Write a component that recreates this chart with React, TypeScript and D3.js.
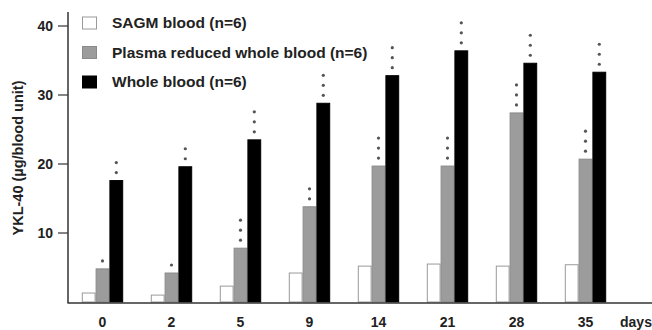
import React from "react";
import * as d3 from "d3";

const days = ["0", "2", "5", "9", "14", "21", "28", "35"];
const seriesNames = ["SAGM blood (n=6)", "Plasma reduced whole blood (n=6)", "Whole blood (n=6)"];
const sagm = [1.3, 1.0, 2.3, 4.2, 5.2, 5.5, 5.2, 5.4];
const plasmaReduced = [4.8, 4.2, 7.8, 13.8, 19.7, 19.7, 27.4, 20.7];
const wholeBlood = [17.6, 19.6, 23.5, 28.8, 32.8, 36.4, 34.6, 33.3];
const sagmStars = [0, 0, 0, 0, 0, 0, 0, 0];
const plasmaStars = [1, 1, 3, 2, 3, 3, 3, 3];
const wholeStars = [2, 2, 3, 3, 3, 3, 3, 3];
const yTicks = [10, 20, 30, 40];

const W = 652;
const H = 330;
const FONT = "'Liberation Sans', Arial, sans-serif";

export default function App() {
  const x = d3.scaleBand<string>().domain(days).range([68, 620]).paddingInner(0.4).paddingOuter(0.2);
  const keys = ["0", "1", "2"];
  const xs = d3.scaleBand<string>().domain(keys).range([0, x.bandwidth()]);
  const y = d3.scaleLinear().domain([0, 40]).range([302, 26]);
  const series = [sagm, plasmaReduced, wholeBlood];
  const stars = [sagmStars, plasmaStars, wholeStars];
  const fills = ["#ffffff", "#9c9c9c", "#000000"];
  const strokes = ["#9a9a9a", "#8a8a8a", "#000000"];

  return (
    <svg width={W} height={H} style={{ position: "absolute", left: 0, top: 0, background: "#fff" }}>
      {/* bars */}
      {days.map((d, i) => (
        <g key={d}>
          {series.map((s, k) => {
            const bx = (x(d) ?? 0) + (xs(keys[k]) ?? 0);
            const by = y(s[i]);
            const bw = xs.bandwidth();
            return (
              <g key={k}>
                <rect
                  x={bx + 0.5}
                  y={by}
                  width={bw - 1}
                  height={y(0) - by}
                  fill={fills[k]}
                  stroke={strokes[k]}
                  strokeWidth={1}
                />
                {d3.range(stars[k][i]).map((j) => (
                  <circle
                    key={j}
                    cx={bx + bw / 2}
                    cy={by - 8 - j * 10}
                    r={1.6}
                    fill="#555"
                  />
                ))}
              </g>
            );
          })}
        </g>
      ))}
      {/* axes */}
      <line x1={68} x2={68} y1={12} y2={303} stroke="#333" strokeWidth={1.5} />
      <line x1={67.5} x2={652} y1={303} y2={303} stroke="#333" strokeWidth={1.5} />
      {yTicks.map((t) => (
        <g key={t}>
          <line x1={58} x2={68} y1={y(t)} y2={y(t)} stroke="#333" strokeWidth={1.2} />
          <text
            x={53}
            y={y(t)}
            dy="0.35em"
            textAnchor="end"
            fontFamily={FONT}
            fontWeight="bold"
            fontSize={14}
            fill="#222"
          >
            {t}
          </text>
        </g>
      ))}
      {days.map((d) => (
        <text
          key={d}
          x={(x(d) ?? 0) + x.bandwidth() / 2}
          y={327}
          textAnchor="middle"
          fontFamily={FONT}
          fontWeight="bold"
          fontSize={14}
          fill="#222"
        >
          {d}
        </text>
      ))}
      <text x={636} y={327} textAnchor="middle" fontFamily={FONT} fontWeight="bold" fontSize={14} fill="#222">
        days
      </text>
      <text
        transform={`translate(18,158) rotate(-90)`}
        textAnchor="middle"
        dy="0.35em"
        fontFamily={FONT}
        fontWeight="bold"
        fontSize={14.5}
        fill="#222"
      >
        YKL-40 (µg/blood unit)
      </text>
      {/* legend */}
      {seriesNames.map((n, k) => (
        <g key={n} transform={`translate(82,${23 + k * 29.5})`}>
          <rect x={0.5} y={-6} width={14} height={12} fill={fills[k]} stroke={strokes[k]} strokeWidth={1} />
          <text x={30} y={0} dy="0.35em" fontFamily={FONT} fontWeight="bold" fontSize={15.5} fill="#222">
            {n}
          </text>
        </g>
      ))}
    </svg>
  );
}
